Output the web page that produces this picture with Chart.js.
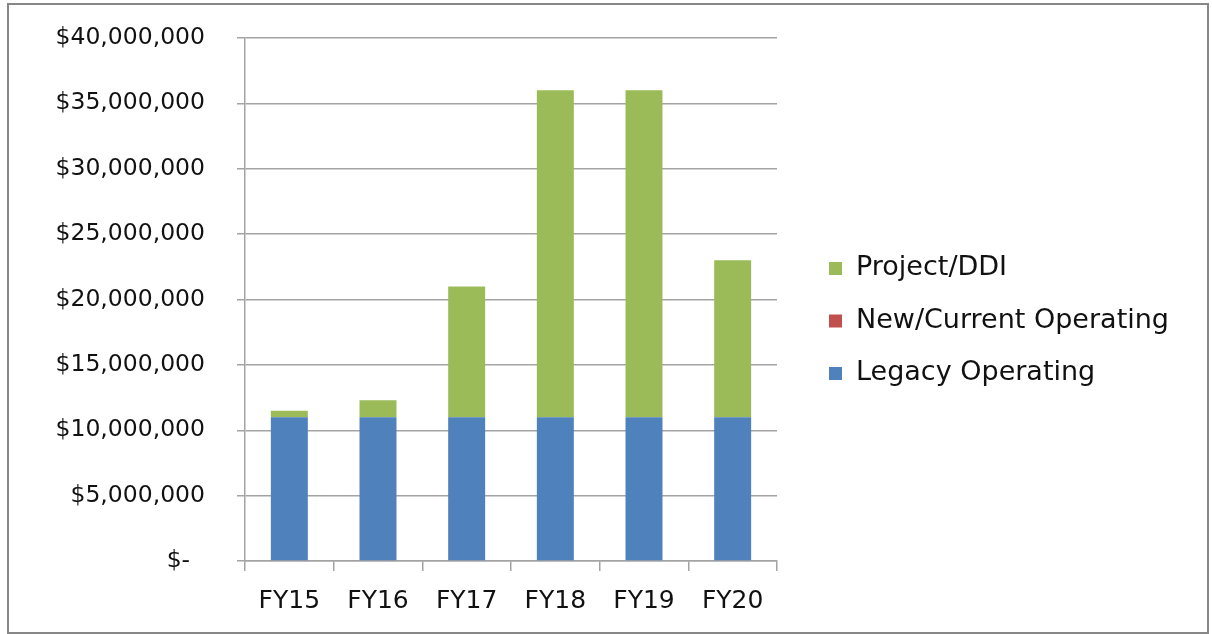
<!DOCTYPE html>
<html lang="en">
<head>
  <meta charset="UTF-8">
  <title>Budget by fiscal year</title>
  <script src="https://cdn.jsdelivr.net/npm/chart.js"></script>
  <style>
    html, body { margin: 0; padding: 0; background: #fff; }
    .frame { position: absolute; left: 7px; top: 3px; width: 1198px; height: 627px; border: 2px solid #878787; }
    .wrap { position: absolute; left: 0; top: 0; width: 1212px; height: 634px; }
  </style>
</head>
<body>
  <div class="frame"></div>
  <div class="wrap">
    <canvas id="budgetChart" width="1212" height="634"></canvas>
  </div>

  <script>
    // 年度
    const years = ['FY15', 'FY16', 'FY17', 'FY18', 'FY19', 'FY20'];
    // 系列データ（ドル）
    const legacyOperating = [11000000, 11000000, 11000000, 11000000, 11000000, 11000000];
    const newCurrentOperating = [0, 0, 0, 0, 0, 0];
    const projectDDI = [500000, 1300000, 10000000, 25000000, 25000000, 12000000];
    // 縦軸の目盛りラベル
    const yTickLabels = ['$-  ', '$5,000,000', '$10,000,000', '$15,000,000', '$20,000,000',
      '$25,000,000', '$30,000,000', '$35,000,000', '$40,000,000'];

    const fontName = '"DejaVu Sans", sans-serif';
    const gridColor = '#a3a3a3';
    const textColor = '#111';

    // 凡例は右側に手描き（逆順）
    const sideLegend = {
      id: 'sideLegend',
      afterDraw(chart) {
        const c = chart.ctx;
        const items = chart.data.datasets.slice().reverse();
        c.save();
        c.font = '27px ' + fontName;
        c.textBaseline = 'middle';
        c.textAlign = 'left';
        items.forEach((ds, i) => {
          const y = 268 + i * 52.5;
          c.fillStyle = ds.backgroundColor;
          c.fillRect(829, y - 6, 13, 13);
          c.fillStyle = textColor;
          c.fillText(ds.label, 856, y);
        });
        c.restore();
      }
    };

    const ctx = document.getElementById('budgetChart').getContext('2d');
    new Chart(ctx, {
      type: 'bar',
      data: {
        labels: years,
        datasets: [
          { label: 'Legacy Operating', data: legacyOperating, backgroundColor: '#4f81bd' },
          { label: 'New/Current Operating', data: newCurrentOperating, backgroundColor: '#c0504d' },
          { label: 'Project/DDI', data: projectDDI, backgroundColor: '#9bbb59' }
        ]
      },
      options: {
        responsive: false,
        animation: false,
        layout: { padding: { left: 0, right: 435, top: 38, bottom: 0 } },
        datasets: { bar: { barPercentage: 0.417, categoryPercentage: 1 } },
        plugins: {
          legend: { display: false },
          tooltip: { enabled: false }
        },
        scales: {
          x: {
            stacked: true,
            afterFit(scale) { scale.height = 73; },
            grid: { drawOnChartArea: false, drawTicks: true, tickLength: 10, color: gridColor, lineWidth: 1.5 },
            border: { display: true, color: gridColor, width: 1.5 },
            ticks: { color: textColor, font: { family: fontName, size: 25 }, padding: 15 }
          },
          y: {
            stacked: true,
            min: 0,
            max: 40000000,
            afterFit(scale) {
              scale.width = 245;
              scale.paddingTop = 0;
              scale.paddingBottom = 0;
            },
            grid: { color: gridColor, lineWidth: 1.5, tickLength: 8 },
            border: { display: true, color: gridColor, width: 1.5 },
            ticks: {
              stepSize: 5000000,
              color: textColor,
              font: { family: fontName, size: 23.5 },
              padding: 32,
              callback: (v, i) => yTickLabels[i]
            }
          }
        }
      },
      plugins: [sideLegend]
    });
  </script>
</body>
</html>
